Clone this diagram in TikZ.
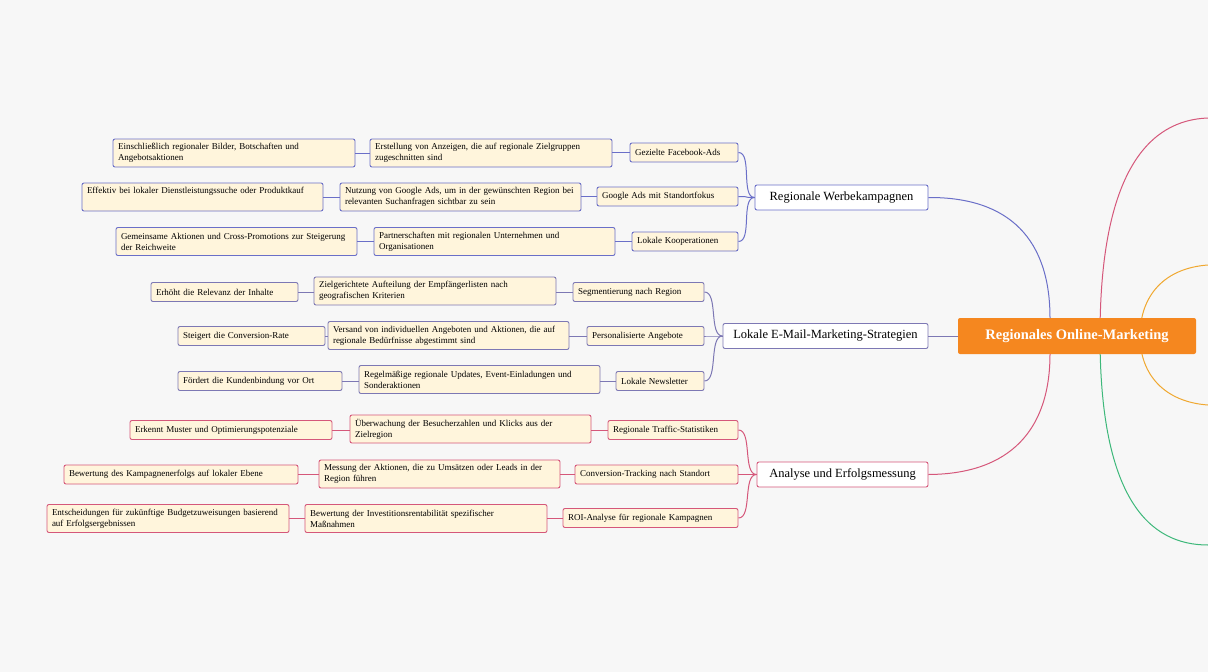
\documentclass[tikz,border=0pt]{standalone}
\usepackage{fontspec}
\setmainfont{Liberation Serif}
\definecolor{bgc}{HTML}{F7F7F7}
\definecolor{werbe}{HTML}{6A6FC8}
\definecolor{mail}{HTML}{7D78B4}
\definecolor{analyse}{HTML}{D5577A}
\definecolor{leaf}{HTML}{FFF5DC}
\definecolor{rootc}{HTML}{F5871F}
\definecolor{gruen}{HTML}{3DB87A}
\definecolor{gelb}{HTML}{F0A830}
\tikzset{
  nd/.style={draw=#1,fill=leaf,rounded corners=2pt,line width=0.9pt,inner xsep=5pt,inner ysep=2pt,
    align=left,font=\fontsize{9}{11}\selectfont,minimum height=19pt},
  two/.style={minimum height=28pt},
  br/.style={draw=#1,fill=white,rounded corners=2pt,line width=0.9pt,inner xsep=8pt,
    align=left,font=\fontsize{12.5}{14}\selectfont,minimum height=25pt},
  ln/.style={draw=#1,line width=1pt}
}
\begin{document}
\begin{tikzpicture}[x=1pt,y=-1pt]
\fill[bgc] (0,0) rectangle (1208,672);
\useasboundingbox (0,0) rectangle (1208,672);
% right side branches
\coordinate (r0) at (1100,336);
\coordinate (r1) at (1208,118);
\coordinate (o0) at (1140,336);
\coordinate (o1) at (1208,265);
\coordinate (o2) at (1208,405);
\coordinate (g1) at (1208,545);
\draw[ln=analyse] (r0) .. controls (1100,170) and (1150,120) .. (r1);
\draw[ln=gelb] (o1) .. controls (1165,268) and (1140,295) .. (o0) .. controls (1140,375) and (1165,402) .. (o2);
\draw[ln=gruen] (r0) .. controls (1100,500) and (1150,545) .. (g1);
% root
\node[fill=rootc,text=white,rounded corners=2pt,minimum width=238pt,minimum height=36pt,
  font=\fontsize{14.5}{16}\selectfont\bfseries] (root) at (1077,336) {Regionales Online-Marketing};
\coordinate (rt) at (1050,318);
\coordinate (rb) at (1050,354);
% Werbekampagnen
\node[br=werbe,minimum width=173pt] (werb) at (841.5,197.5) {Regionale Werbekampagnen};
\node[nd=werbe,text width=98pt] (fb) at (684,152.5) {Gezielte Facebook-Ads};
\node[nd=werbe,text width=131pt] (ga) at (667.5,196.5) {Google Ads mit Standortfokus};
\node[nd=werbe,text width=96pt] (ko) at (685,241.5) {Lokale Kooperationen};
\node[nd=werbe,two,text width=232pt] (fb3) at (491,153) {Erstellung von Anzeigen, die auf regionale Zielgruppen\\zugeschnitten sind};
\node[nd=werbe,two,text width=231pt] (ga3) at (460.5,197) {Nutzung von Google Ads, um in der gewünschten Region bei\\relevanten Suchanfragen sichtbar zu sein};
\node[nd=werbe,two,text width=231pt] (ko3) at (494.5,241.5) {Partnerschaften mit regionalen Unternehmen und\\Organisationen};
\node[nd=werbe,two,text width=232pt] (fb4) at (234,153) {Einschließlich regionaler Bilder, Botschaften und\\Angebotsaktionen};
\node[nd=werbe,two,text width=231pt] (ga4) at (202.5,197) {Effektiv bei lokaler Dienstleistungssuche oder Produktkauf\\\strut};
\node[nd=werbe,two,text width=231pt] (ko4) at (236.5,241.5) {Gemeinsame Aktionen und Cross-Promotions zur Steigerung\\der Reichweite};
% E-Mail
\node[br=mail,minimum width=205pt] (mailb) at (825.5,336) {Lokale E-Mail-Marketing-Strategien};
\node[nd=mail,text width=121pt] (se) at (638.5,292) {Segmentierung nach Region};
\node[nd=mail,text width=107pt] (pa) at (645.5,336) {Personalisierte Angebote};
\node[nd=mail,text width=78pt] (nl) at (660,381) {Lokale Newsletter};
\node[nd=mail,two,text width=232pt] (se3) at (435,291) {Zielgerichtete Aufteilung der Empfängerlisten nach\\geografischen Kriterien};
\node[nd=mail,two,text width=231pt] (pa3) at (448.5,335.5) {Versand von individuellen Angeboten und Aktionen, die auf\\regionale Bedürfnisse abgestimmt sind};
\node[nd=mail,two,text width=231pt] (nl3) at (479.5,379.5) {Regelmäßige regionale Updates, Event-Einladungen und\\Sonderaktionen};
\node[nd=mail,text width=137pt] (se4) at (224.5,292) {Erhöht die Relevanz der Inhalte};
\node[nd=mail,text width=137pt] (pa4) at (251.5,336) {Steigert die Conversion-Rate};
\node[nd=mail,text width=154pt] (nl4) at (260,381) {Fördert die Kundenbindung vor Ort};
% Analyse
\node[br=analyse,minimum width=171pt] (anb) at (842.5,474.5) {Analyse und Erfolgsmessung};
\node[nd=analyse,text width=120pt] (tr) at (673,430) {Regionale Traffic-Statistiken};
\node[nd=analyse,text width=153pt] (ct) at (656.5,474.5) {Conversion-Tracking nach Standort};
\node[nd=analyse,text width=165pt] (roi) at (650.5,518) {ROI-Analyse für regionale Kampagnen};
\node[nd=analyse,two,text width=231pt] (tr3) at (470.5,429) {Überwachung der Besucherzahlen und Klicks aus der\\Zielregion};
\node[nd=analyse,two,text width=231pt] (ct3) at (439.5,474) {Messung der Aktionen, die zu Umsätzen oder Leads in der\\Region führen};
\node[nd=analyse,two,text width=232pt] (roi3) at (426,518.5) {Bewertung der Investitionsrentabilität spezifischer\\Maßnahmen};
\node[nd=analyse,text width=192pt] (tr4) at (231,430) {Erkennt Muster und Optimierungspotenziale};
\node[nd=analyse,text width=224pt] (ct4) at (181,474.5) {Bewertung des Kampagnenerfolgs auf lokaler Ebene};
\node[nd=analyse,two,text width=232pt] (roi4) at (168,518.5) {Entscheidungen für zukünftige Budgetzuweisungen basierend\\auf Erfolgsergebnissen};
% connectors
\draw[ln=werbe] (werb.east) .. controls (1010,197) and (1050,240) .. (rt);
\draw[ln=mail] (mailb.east) -- (root.west);
\draw[ln=analyse] (anb.east) .. controls (1010,474) and (1050,430) .. (rb);
\foreach \a/\b/\c in {fb/werb/werbe,ga/werb/werbe,ko/werb/werbe,se/mailb/mail,pa/mailb/mail,nl/mailb/mail,tr/anb/analyse,ct/anb/analyse,roi/anb/analyse}{
  \draw[ln=\c] (\a.east) .. controls +(14,0) and +(-14,0) .. (\b.west);
  \draw[ln=\c] (\a4.east) -- (\a4.east -| \a3.west);
  \draw[ln=\c] (\a3.east |- \a.west) -- (\a.west);
}
\end{tikzpicture}
\end{document}
